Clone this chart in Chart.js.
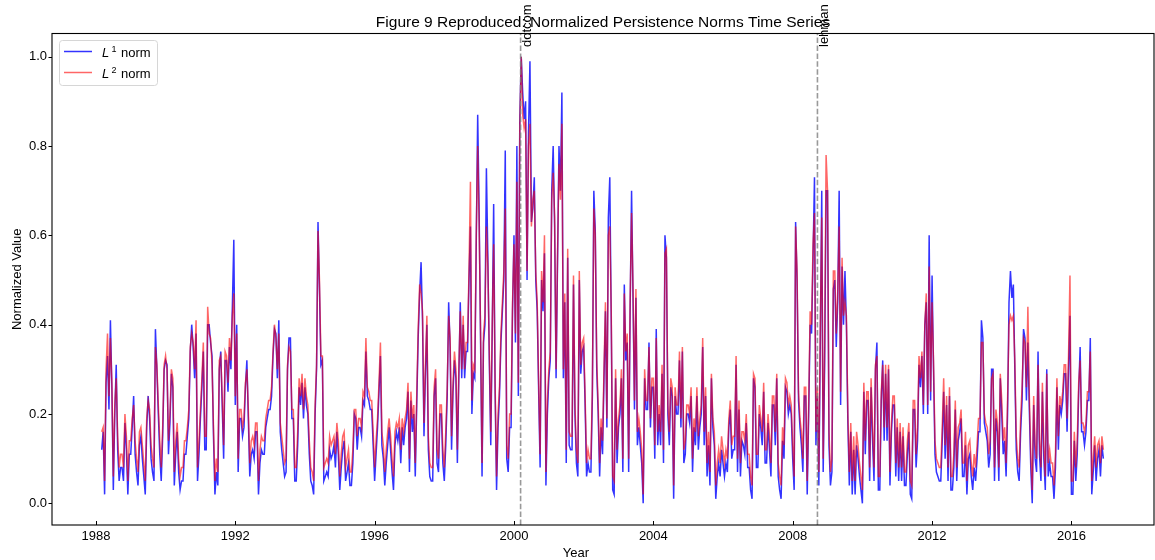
<!DOCTYPE html>
<html>
<head>
<meta charset="utf-8">
<script src="https://cdn.jsdelivr.net/npm/chart.js@4.4.1/dist/chart.umd.min.js"></script>
<style>
  html, body { margin: 0; padding: 0; background: #fff; }
  #wrap { width: 1155px; height: 560px; }
</style>
</head>
<body>
<div id="wrap"><canvas id="normChart" width="1155" height="560"></canvas></div>
<script>
// half-month samples, one row per year; 1988 starts in March
const firstYear = 1988;
const firstSlot = 4;          // slot = half month, 24 per year
const slotsPerYear = 24;

// L1 norm (normalized)
const l1Norm = [
  [0.12, 0.16, 0.02, 0.27, 0.33, 0.21, 0.41, 0.26, 0.03, 0.20, 0.31, 0.12, 0.05, 0.08, 0.08, 0.05, 0.18, 0.12, 0.02, 0.11],
  [0.11, 0.17, 0.24, 0.11, 0.07, 0.04, 0.13, 0.15, 0.10, 0.06, 0.02, 0.17, 0.24, 0.19, 0.10, 0.07, 0.05, 0.39, 0.30, 0.20, 0.11, 0.05, 0.15, 0.30],
  [0.32, 0.31, 0.11, 0.18, 0.29, 0.26, 0.04, 0.11, 0.16, 0.07, 0.03, 0.05, 0.05, 0.11, 0.11, 0.15, 0.19, 0.34, 0.40, 0.35, 0.28, 0.38, 0.05, 0.11],
  [0.19, 0.26, 0.34, 0.12, 0.12, 0.40, 0.40, 0.36, 0.33, 0.15, 0.02, 0.07, 0.04, 0.30, 0.34, 0.22, 0.10, 0.32, 0.32, 0.25, 0.35, 0.30, 0.44, 0.59],
  [0.22, 0.40, 0.07, 0.19, 0.19, 0.15, 0.17, 0.26, 0.32, 0.19, 0.06, 0.11, 0.12, 0.10, 0.16, 0.16, 0.02, 0.09, 0.12, 0.11, 0.11, 0.17, 0.19, 0.21],
  [0.21, 0.24, 0.33, 0.39, 0.38, 0.28, 0.41, 0.16, 0.12, 0.09, 0.06, 0.07, 0.30, 0.37, 0.37, 0.19, 0.19, 0.05, 0.05, 0.13, 0.26, 0.22, 0.27, 0.19],
  [0.26, 0.22, 0.20, 0.11, 0.05, 0.04, 0.02, 0.20, 0.30, 0.63, 0.48, 0.31, 0.32, 0.05, 0.06, 0.07, 0.06, 0.12, 0.10, 0.11, 0.13, 0.08, 0.16, 0.11],
  [0.03, 0.08, 0.12, 0.14, 0.05, 0.07, 0.09, 0.04, 0.04, 0.09, 0.20, 0.19, 0.12, 0.17, 0.17, 0.15, 0.23, 0.22, 0.34, 0.24, 0.23, 0.21, 0.21, 0.13],
  [0.05, 0.11, 0.17, 0.25, 0.33, 0.13, 0.10, 0.04, 0.09, 0.13, 0.17, 0.12, 0.07, 0.03, 0.13, 0.16, 0.14, 0.17, 0.09, 0.17, 0.13, 0.17, 0.19, 0.25],
  [0.07, 0.23, 0.16, 0.20, 0.06, 0.22, 0.37, 0.47, 0.54, 0.41, 0.15, 0.29, 0.40, 0.12, 0.06, 0.05, 0.05, 0.24, 0.28, 0.09, 0.07, 0.20, 0.20, 0.09],
  [0.05, 0.13, 0.24, 0.45, 0.35, 0.12, 0.25, 0.32, 0.28, 0.09, 0.28, 0.45, 0.28, 0.40, 0.28, 0.34, 0.34, 0.50, 0.62, 0.20, 0.29, 0.28, 0.58, 0.87],
  [0.65, 0.36, 0.06, 0.36, 0.40, 0.75, 0.55, 0.32, 0.13, 0.38, 0.67, 0.25, 0.03, 0.17, 0.24, 0.36, 0.43, 0.50, 0.79, 0.10, 0.07, 0.17, 0.17, 0.43],
  [0.60, 0.36, 0.80, 0.24, 0.86, 1.00, 0.92, 0.86, 0.90, 0.50, 0.83, 0.99, 0.63, 0.66, 0.73, 0.50, 0.43, 0.25, 0.08, 0.50, 0.43, 0.56, 0.04, 0.20],
  [0.28, 0.32, 0.70, 0.80, 0.62, 0.28, 0.54, 0.80, 0.70, 0.92, 0.28, 0.45, 0.09, 0.55, 0.13, 0.12, 0.12, 0.49, 0.20, 0.09, 0.06, 0.50, 0.29, 0.34],
  [0.35, 0.22, 0.06, 0.09, 0.07, 0.07, 0.24, 0.70, 0.61, 0.30, 0.20, 0.06, 0.17, 0.11, 0.28, 0.43, 0.17, 0.64, 0.73, 0.41, 0.03, 0.02, 0.28, 0.09],
  [0.17, 0.20, 0.28, 0.07, 0.49, 0.32, 0.36, 0.07, 0.43, 0.70, 0.46, 0.21, 0.46, 0.13, 0.17, 0.13, 0.09, 0.00, 0.28, 0.21, 0.21, 0.36, 0.17, 0.26],
  [0.26, 0.10, 0.39, 0.13, 0.20, 0.13, 0.29, 0.09, 0.60, 0.55, 0.20, 0.13, 0.26, 0.24, 0.01, 0.24, 0.20, 0.20, 0.32, 0.17, 0.34, 0.09, 0.11, 0.20],
  [0.20, 0.18, 0.24, 0.07, 0.17, 0.13, 0.24, 0.12, 0.17, 0.20, 0.35, 0.13, 0.24, 0.06, 0.13, 0.04, 0.28, 0.17, 0.13, 0.01, 0.06, 0.09, 0.06, 0.12],
  [0.09, 0.06, 0.09, 0.07, 0.17, 0.21, 0.10, 0.12, 0.12, 0.31, 0.07, 0.21, 0.06, 0.14, 0.13, 0.11, 0.18, 0.08, 0.08, 0.03, 0.01, 0.28, 0.26, 0.08],
  [0.08, 0.20, 0.17, 0.13, 0.25, 0.09, 0.09, 0.18, 0.12, 0.06, 0.22, 0.22, 0.13, 0.28, 0.06, 0.03, 0.01, 0.14, 0.10, 0.26, 0.25, 0.20, 0.22, 0.20],
  [0.10, 0.03, 0.63, 0.50, 0.23, 0.17, 0.13, 0.07, 0.24, 0.24, 0.02, 0.20, 0.40, 0.38, 0.55, 0.73, 0.13, 0.24, 0.04, 0.36, 0.70, 0.07, 0.31, 0.70],
  [0.70, 0.13, 0.04, 0.07, 0.48, 0.50, 0.35, 0.45, 0.70, 0.22, 0.53, 0.40, 0.52, 0.40, 0.18, 0.04, 0.16, 0.02, 0.12, 0.02, 0.13, 0.10, 0.06, 0.03],
  [0.00, 0.25, 0.11, 0.23, 0.23, 0.05, 0.26, 0.14, 0.05, 0.30, 0.36, 0.03, 0.03, 0.23, 0.32, 0.14, 0.29, 0.14, 0.30, 0.04, 0.16, 0.22, 0.22, 0.06],
  [0.17, 0.05, 0.16, 0.05, 0.15, 0.04, 0.04, 0.11, 0.16, 0.02, 0.01, 0.21, 0.21, 0.08, 0.14, 0.31, 0.26, 0.33, 0.20, 0.40, 0.45, 0.20, 0.60, 0.23],
  [0.51, 0.30, 0.11, 0.07, 0.06, 0.05, 0.05, 0.14, 0.25, 0.10, 0.22, 0.05, 0.24, 0.03, 0.03, 0.08, 0.21, 0.05, 0.14, 0.16, 0.19, 0.06, 0.06, 0.13],
  [0.02, 0.10, 0.11, 0.06, 0.03, 0.08, 0.05, 0.10, 0.16, 0.16, 0.41, 0.37, 0.18, 0.16, 0.14, 0.08, 0.11, 0.30, 0.30, 0.05, 0.19, 0.16, 0.05, 0.28],
  [0.20, 0.11, 0.14, 0.06, 0.20, 0.45, 0.52, 0.46, 0.49, 0.30, 0.12, 0.07, 0.05, 0.16, 0.23, 0.39, 0.37, 0.23, 0.36, 0.21, 0.08, 0.00, 0.22, 0.10],
  [0.07, 0.34, 0.11, 0.05, 0.25, 0.10, 0.03, 0.30, 0.06, 0.09, 0.06, 0.06, 0.01, 0.08, 0.26, 0.12, 0.22, 0.20, 0.23, 0.29, 0.29, 0.16, 0.30, 0.42],
  [0.02, 0.02, 0.14, 0.05, 0.11, 0.25, 0.35, 0.16, 0.16, 0.13, 0.16, 0.23, 0.23, 0.37, 0.02, 0.07, 0.13, 0.05, 0.10, 0.12, 0.06, 0.13, 0.10]
];

// L2 norm (normalized)
const l2Norm = [
  [0.16, 0.17, 0.05, 0.30, 0.38, 0.24, 0.37, 0.27, 0.06, 0.22, 0.28, 0.15, 0.08, 0.11, 0.11, 0.08, 0.20, 0.15, 0.05, 0.14],
  [0.14, 0.19, 0.22, 0.14, 0.10, 0.07, 0.16, 0.17, 0.13, 0.09, 0.05, 0.19, 0.23, 0.21, 0.13, 0.10, 0.08, 0.35, 0.31, 0.22, 0.14, 0.08, 0.17, 0.31],
  [0.33, 0.30, 0.14, 0.20, 0.30, 0.28, 0.07, 0.14, 0.18, 0.10, 0.06, 0.08, 0.08, 0.14, 0.14, 0.17, 0.21, 0.35, 0.38, 0.36, 0.30, 0.41, 0.08, 0.14],
  [0.21, 0.28, 0.36, 0.15, 0.15, 0.44, 0.38, 0.37, 0.31, 0.17, 0.05, 0.10, 0.07, 0.32, 0.33, 0.24, 0.13, 0.34, 0.33, 0.27, 0.37, 0.32, 0.42, 0.47],
  [0.24, 0.38, 0.10, 0.21, 0.21, 0.17, 0.19, 0.27, 0.30, 0.21, 0.09, 0.14, 0.15, 0.13, 0.18, 0.18, 0.05, 0.12, 0.15, 0.14, 0.14, 0.19, 0.21, 0.23],
  [0.23, 0.26, 0.34, 0.40, 0.37, 0.30, 0.38, 0.18, 0.15, 0.12, 0.09, 0.10, 0.31, 0.35, 0.34, 0.21, 0.21, 0.08, 0.08, 0.16, 0.28, 0.24, 0.29, 0.21],
  [0.28, 0.24, 0.22, 0.14, 0.08, 0.07, 0.05, 0.22, 0.31, 0.61, 0.50, 0.33, 0.33, 0.08, 0.09, 0.10, 0.09, 0.15, 0.13, 0.14, 0.15, 0.11, 0.18, 0.14],
  [0.06, 0.11, 0.15, 0.16, 0.08, 0.10, 0.12, 0.07, 0.07, 0.12, 0.21, 0.21, 0.15, 0.19, 0.19, 0.17, 0.25, 0.24, 0.37, 0.26, 0.25, 0.23, 0.23, 0.16],
  [0.08, 0.14, 0.19, 0.27, 0.36, 0.16, 0.13, 0.07, 0.12, 0.16, 0.19, 0.15, 0.10, 0.06, 0.16, 0.18, 0.17, 0.19, 0.12, 0.19, 0.16, 0.19, 0.21, 0.27],
  [0.10, 0.25, 0.19, 0.22, 0.09, 0.24, 0.39, 0.49, 0.47, 0.43, 0.18, 0.31, 0.42, 0.15, 0.09, 0.08, 0.08, 0.26, 0.30, 0.12, 0.10, 0.22, 0.22, 0.12],
  [0.08, 0.16, 0.26, 0.42, 0.37, 0.15, 0.27, 0.34, 0.30, 0.12, 0.30, 0.43, 0.30, 0.42, 0.30, 0.36, 0.36, 0.52, 0.72, 0.23, 0.31, 0.30, 0.60, 0.80],
  [0.62, 0.38, 0.09, 0.38, 0.42, 0.62, 0.53, 0.34, 0.16, 0.40, 0.58, 0.27, 0.06, 0.20, 0.26, 0.38, 0.45, 0.52, 0.66, 0.13, 0.10, 0.20, 0.20, 0.45],
  [0.58, 0.38, 0.72, 0.27, 0.84, 1.00, 0.87, 0.84, 0.86, 0.52, 0.80, 0.85, 0.62, 0.68, 0.70, 0.52, 0.45, 0.27, 0.11, 0.52, 0.45, 0.60, 0.07, 0.23],
  [0.30, 0.34, 0.68, 0.74, 0.64, 0.30, 0.56, 0.76, 0.68, 0.85, 0.30, 0.47, 0.12, 0.57, 0.16, 0.15, 0.15, 0.51, 0.22, 0.12, 0.09, 0.52, 0.31, 0.36],
  [0.37, 0.24, 0.09, 0.12, 0.10, 0.10, 0.26, 0.66, 0.60, 0.32, 0.22, 0.09, 0.19, 0.14, 0.30, 0.45, 0.19, 0.60, 0.62, 0.43, 0.06, 0.05, 0.30, 0.12],
  [0.19, 0.22, 0.30, 0.10, 0.47, 0.34, 0.38, 0.10, 0.45, 0.65, 0.48, 0.23, 0.48, 0.16, 0.19, 0.16, 0.12, 0.02, 0.30, 0.23, 0.23, 0.35, 0.19, 0.28],
  [0.28, 0.13, 0.37, 0.16, 0.22, 0.16, 0.31, 0.12, 0.56, 0.57, 0.22, 0.16, 0.28, 0.26, 0.04, 0.26, 0.22, 0.22, 0.34, 0.19, 0.35, 0.12, 0.14, 0.22],
  [0.22, 0.20, 0.26, 0.10, 0.19, 0.16, 0.26, 0.15, 0.19, 0.22, 0.37, 0.16, 0.26, 0.09, 0.16, 0.07, 0.29, 0.19, 0.16, 0.04, 0.09, 0.12, 0.09, 0.15],
  [0.12, 0.09, 0.12, 0.10, 0.19, 0.23, 0.13, 0.15, 0.15, 0.33, 0.10, 0.23, 0.09, 0.16, 0.16, 0.14, 0.20, 0.11, 0.11, 0.06, 0.04, 0.29, 0.28, 0.11],
  [0.11, 0.22, 0.19, 0.16, 0.27, 0.12, 0.12, 0.20, 0.15, 0.09, 0.24, 0.24, 0.16, 0.29, 0.09, 0.06, 0.04, 0.17, 0.13, 0.28, 0.27, 0.22, 0.24, 0.22],
  [0.13, 0.06, 0.62, 0.52, 0.25, 0.19, 0.16, 0.10, 0.26, 0.26, 0.05, 0.22, 0.43, 0.40, 0.58, 0.65, 0.16, 0.26, 0.07, 0.40, 0.64, 0.10, 0.35, 0.78],
  [0.70, 0.16, 0.07, 0.10, 0.52, 0.52, 0.38, 0.47, 0.62, 0.25, 0.55, 0.42, 0.45, 0.42, 0.20, 0.07, 0.18, 0.05, 0.15, 0.05, 0.16, 0.13, 0.09, 0.06],
  [0.03, 0.27, 0.14, 0.25, 0.25, 0.08, 0.28, 0.17, 0.08, 0.31, 0.33, 0.06, 0.06, 0.25, 0.31, 0.17, 0.31, 0.17, 0.31, 0.07, 0.18, 0.24, 0.24, 0.09],
  [0.19, 0.08, 0.18, 0.08, 0.17, 0.07, 0.07, 0.14, 0.18, 0.05, 0.04, 0.23, 0.23, 0.11, 0.17, 0.33, 0.28, 0.34, 0.22, 0.40, 0.47, 0.22, 0.53, 0.25],
  [0.45, 0.32, 0.14, 0.10, 0.09, 0.08, 0.08, 0.17, 0.28, 0.13, 0.24, 0.08, 0.26, 0.06, 0.06, 0.11, 0.23, 0.08, 0.17, 0.18, 0.21, 0.09, 0.09, 0.16],
  [0.05, 0.13, 0.14, 0.09, 0.06, 0.11, 0.08, 0.13, 0.19, 0.19, 0.36, 0.36, 0.20, 0.18, 0.17, 0.11, 0.14, 0.28, 0.29, 0.08, 0.21, 0.18, 0.08, 0.29],
  [0.23, 0.14, 0.17, 0.09, 0.23, 0.40, 0.42, 0.41, 0.42, 0.32, 0.15, 0.10, 0.08, 0.19, 0.26, 0.37, 0.36, 0.26, 0.44, 0.24, 0.11, 0.03, 0.24, 0.13],
  [0.10, 0.31, 0.14, 0.08, 0.27, 0.13, 0.06, 0.29, 0.09, 0.12, 0.09, 0.09, 0.04, 0.11, 0.28, 0.15, 0.24, 0.22, 0.25, 0.31, 0.31, 0.19, 0.33, 0.51],
  [0.05, 0.05, 0.16, 0.08, 0.14, 0.27, 0.32, 0.18, 0.18, 0.16, 0.18, 0.25, 0.25, 0.34, 0.05, 0.10, 0.15, 0.08, 0.13, 0.14, 0.09, 0.15, 0.12]
];

const xTicks = [1988, 1992, 1996, 2000, 2004, 2008, 2012, 2016];
const yTicks = [0.0, 0.2, 0.4, 0.6, 0.8, 1.0];

// crisis markers
const eventNames = ['dotcom', 'lehman'];
const eventYears = [2000.19, 2008.71];

const FONT = '"Liberation Sans", Arial, Helvetica, sans-serif';

function toPoints(rows) {
    const pts = [];
    rows.forEach((row, r) => {
        const start = r === 0 ? firstSlot : 0;
        row.forEach((v, j) => {
            pts.push({ x: firstYear + r + (start + j) / slotsPerYear, y: v });
        });
    });
    return pts;
}

const decorPlugin = {
    id: 'decor',
    afterDraw(chart) {
        const ctx = chart.ctx;
        const area = chart.chartArea;
        const xs = chart.scales.x;
        const ys = chart.scales.y;
        ctx.save();

        // event lines
        ctx.strokeStyle = 'rgba(128,128,128,0.8)';
        ctx.lineWidth = 1.6;
        ctx.setLineDash([5.5, 2.4]);
        eventYears.forEach(yr => {
            const px = xs.getPixelForValue(yr);
            ctx.beginPath();
            ctx.moveTo(px, area.bottom);
            ctx.lineTo(px, area.top);
            ctx.stroke();
        });
        ctx.setLineDash([]);

        // frame
        ctx.strokeStyle = '#000';
        ctx.lineWidth = 1.1;
        ctx.strokeRect(area.left, area.top, area.right - area.left, area.bottom - area.top);

        // ticks: x inward, y outward
        ctx.lineWidth = 1;
        xTicks.forEach(v => {
            const px = Math.round(xs.getPixelForValue(v)) + 0.5;
            ctx.beginPath();
            ctx.moveTo(px, area.bottom);
            ctx.lineTo(px, area.bottom - 4);
            ctx.stroke();
        });
        yTicks.forEach(v => {
            const py = Math.round(ys.getPixelForValue(v)) + 0.5;
            ctx.beginPath();
            ctx.moveTo(area.left, py);
            ctx.lineTo(area.left - 3.5, py);
            ctx.stroke();
        });

        // event labels, rotated
        ctx.fillStyle = '#000';
        ctx.font = '13px ' + FONT;
        ctx.textAlign = 'left';
        ctx.textBaseline = 'alphabetic';
        eventYears.forEach((yr, i) => {
            const px = xs.getPixelForValue(yr);
            ctx.save();
            ctx.translate(px + 10.5, 47);
            ctx.rotate(-Math.PI / 2);
            ctx.fillText(eventNames[i], 0, 0);
            ctx.restore();
        });

        // title
        ctx.font = '15.5px ' + FONT;
        ctx.textAlign = 'center';
        ctx.fillText('Figure 9 Reproduced: Normalized Persistence Norms Time Series', (area.left + area.right) / 2, 26.5);

        // axis titles
        ctx.font = '13px ' + FONT;
        ctx.fillText('Year', 576, 557);
        ctx.save();
        ctx.translate(21, (area.top + area.bottom) / 2);
        ctx.rotate(-Math.PI / 2);
        ctx.fillText('Normalized Value', 0, 0);
        ctx.restore();

        // legend
        const bx = 59.5, by = 40.5, bw = 98, bh = 45;
        ctx.beginPath();
        ctx.roundRect(bx, by, bw, bh, 3);
        ctx.fillStyle = 'rgba(255,255,255,0.8)';
        ctx.fill();
        ctx.strokeStyle = '#d6d6d6';
        ctx.lineWidth = 1;
        ctx.stroke();

        const rows = [
            { color: 'rgba(0,0,255,0.8)', sup: '1', y: 51.5 },
            { color: 'rgba(255,0,0,0.6)', sup: '2', y: 72.5 }
        ];
        rows.forEach(r => {
            ctx.strokeStyle = r.color;
            ctx.lineWidth = 1.5;
            ctx.beginPath();
            ctx.moveTo(64, r.y);
            ctx.lineTo(92, r.y);
            ctx.stroke();

            ctx.fillStyle = '#000';
            ctx.textAlign = 'left';
            ctx.font = 'italic 13px ' + FONT;
            ctx.fillText('L', 102, r.y + 5);
            ctx.font = '9px ' + FONT;
            ctx.fillText(r.sup, 111.5, r.y);
            ctx.font = '13px ' + FONT;
            ctx.fillText('norm', 121, r.y + 5);
        });

        ctx.restore();
    }
};

new Chart(document.getElementById('normChart'), {
    type: 'line',
    data: {
        datasets: [
            {
                label: 'L1 norm',
                data: toPoints(l1Norm),
                borderColor: 'rgba(0,0,255,0.8)',
                borderWidth: 1.5,
                pointRadius: 0,
                tension: 0,
                order: 2
            },
            {
                label: 'L2 norm',
                data: toPoints(l2Norm),
                borderColor: 'rgba(255,0,0,0.6)',
                borderWidth: 1.5,
                pointRadius: 0,
                tension: 0,
                order: 1
            }
        ]
    },
    options: {
        responsive: false,
        animation: false,
        layout: { padding: { left: 0, right: 1, top: 33.5, bottom: 0 } },
        plugins: {
            legend: { display: false },
            tooltip: { enabled: false },
            title: { display: false }
        },
        scales: {
            x: {
                type: 'linear',
                min: 1986.74,
                max: 2018.37,
                grid: { display: false, drawTicks: false },
                border: { display: false },
                afterBuildTicks: s => { s.ticks = xTicks.map(v => ({ value: v })); },
                afterFit: s => { s.height = 35; },
                ticks: {
                    color: '#000',
                    padding: 4,
                    maxRotation: 0,
                    autoSkip: false,
                    font: { family: FONT, size: 13 },
                    callback: v => String(v)
                }
            },
            y: {
                min: -0.0486,
                max: 1.052,
                grid: { display: false, drawTicks: false },
                border: { display: false },
                afterBuildTicks: s => { s.ticks = yTicks.map(v => ({ value: v })); },
                afterFit: s => { s.width = 52; },
                ticks: {
                    color: '#000',
                    padding: 5,
                    autoSkip: false,
                    font: { family: FONT, size: 13 },
                    callback: v => v.toFixed(1)
                }
            }
        }
    },
    plugins: [decorPlugin]
});
</script>
</body>
</html>
